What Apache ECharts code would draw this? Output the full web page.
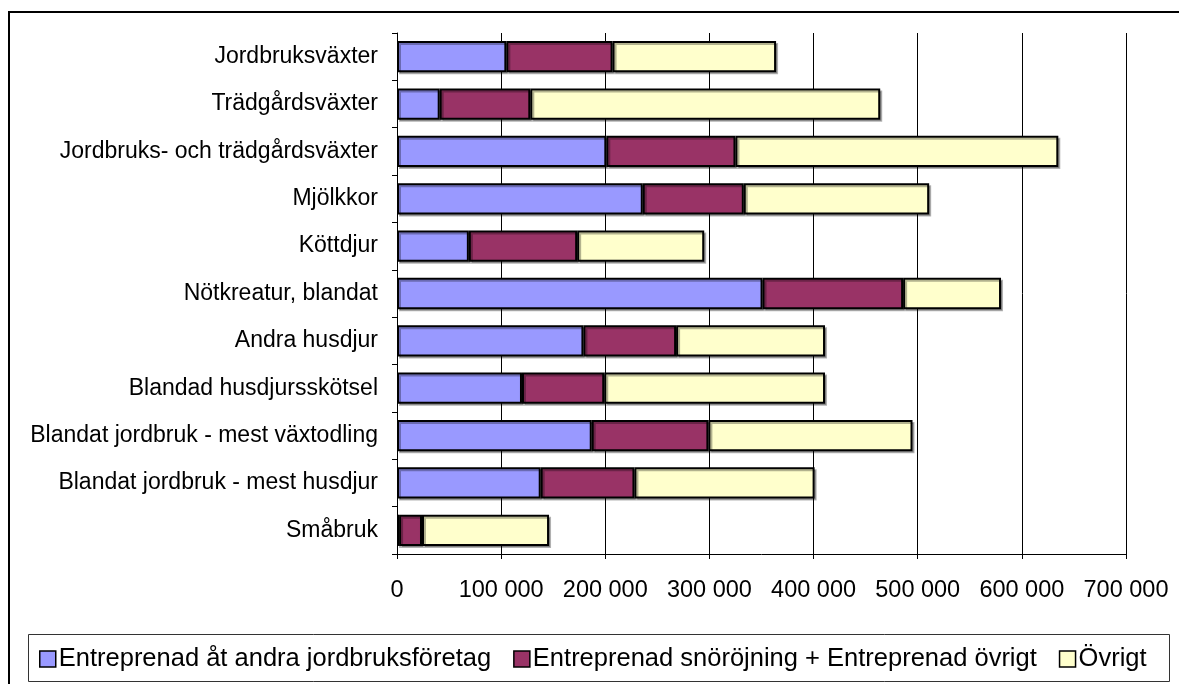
<!DOCTYPE html>
<html>
<head>
<meta charset="utf-8">
<script src="https://cdn.jsdelivr.net/npm/echarts@6/dist/echarts.min.js"></script>
<style>
  html, body { margin: 0; padding: 0; background: #fff; }
  #chart { width: 1179px; height: 684px; }
</style>
</head>
<body>
<div id="chart"></div>
<script>
const categories = [
  "Jordbruksväxter",
  "Trädgårdsväxter",
  "Jordbruks- och trädgårdsväxter",
  "Mjölkkor",
  "Köttdjur",
  "Nötkreatur, blandat",
  "Andra husdjur",
  "Blandad husdjursskötsel",
  "Blandat jordbruk - mest växtodling",
  "Blandat jordbruk - mest husdjur",
  "Småbruk"
];
const seriesNames = [
  "Entreprenad åt andra jordbruksföretag",
  "Entreprenad snöröjning + Entreprenad övrigt",
  "Övrigt"
];
const entreprenadJordbruk = [105000, 41000, 201000, 236000, 69000, 351000, 179000, 120000, 187000, 138000, 2000];
const entreprenadOvrigt = [102000, 87000, 124000, 97000, 104000, 135000, 89000, 79000, 112000, 90000, 22000];
const ovrigt = [157000, 336000, 310000, 178000, 122000, 94000, 143000, 212000, 196000, 173000, 122000];
const xTicks = [0, 100000, 200000, 300000, 400000, 500000, 600000, 700000];

const colors = ["#9999FF", "#993366", "#FFFFCC"];
const font = 'Arial, "Liberation Sans", sans-serif';

var myChart = echarts.init(document.getElementById("chart"));

function fmt(v) {
  return String(v).replace(/\B(?=(\d{3})+(?!\d))/g, " ");
}

function barSeries(name, data, color) {
  return {
    name: name,
    type: "bar",
    stack: "total",
    barCategoryGap: "34%",
    data: data,
    itemStyle: {
      color: color,
      borderColor: "#000",
      borderWidth: 2,
      shadowColor: "rgba(0,0,0,0.3)",
      shadowOffsetX: 2,
      shadowOffsetY: 2
    }
  };
}

let option = {
  animation: false,
  color: colors,
  textStyle: { fontFamily: font, color: "#000" },
  grid: {
    left: 397,
    right: 53,
    top: 33,
    bottom: 130,
    containLabel: false
  },
  legend: {
    left: 39,
    top: 646,
    width: 1140,
    padding: 0,
    icon: "rect",
    itemWidth: 16,
    itemHeight: 16,
    itemGap: 22,
    data: seriesNames,
    itemStyle: { borderColor: "#000", borderWidth: 1.5, shadowColor: "transparent" },
    textStyle: { fontSize: 25.5, fontFamily: font, color: "#000", padding: [0, 0, 0, -2] }
  },
  xAxis: {
    type: "value",
    min: 0,
    max: 700000,
    interval: 100000,
    axisLine: { show: true, lineStyle: { color: "#000", width: 1 } },
    axisTick: { show: true, length: 5, lineStyle: { color: "#000" } },
    splitLine: { show: true, lineStyle: { color: "#000", width: 1 } },
    axisLabel: {
      fontSize: 23.5,
      color: "#000",
      margin: 25,
      formatter: function (v) { return xTicks.indexOf(v) >= 0 ? fmt(v) : ""; }
    }
  },
  yAxis: {
    type: "category",
    inverse: true,
    data: categories,
    axisLine: { show: true, lineStyle: { color: "#000", width: 1 } },
    axisTick: { show: true, length: 5, lineStyle: { color: "#000" } },
    axisLabel: { fontSize: 23, color: "#000", margin: 19 }
  },
  graphic: [
    {
      type: "rect",
      silent: true,
      shape: { x: 9, y: 12, width: 1250, height: 760 },
      style: { fill: null, stroke: "#000", lineWidth: 2 }
    },
    {
      type: "rect",
      silent: true,
      shape: { x: 28.5, y: 634.5, width: 1141, height: 47 },
      style: { fill: null, stroke: "#333", lineWidth: 1 }
    }
  ],
  series: [
    barSeries(seriesNames[0], entreprenadJordbruk, colors[0]),
    barSeries(seriesNames[1], entreprenadOvrigt, colors[1]),
    barSeries(seriesNames[2], ovrigt, colors[2])
  ]
};
myChart.setOption(option);
</script>
</body>
</html>
